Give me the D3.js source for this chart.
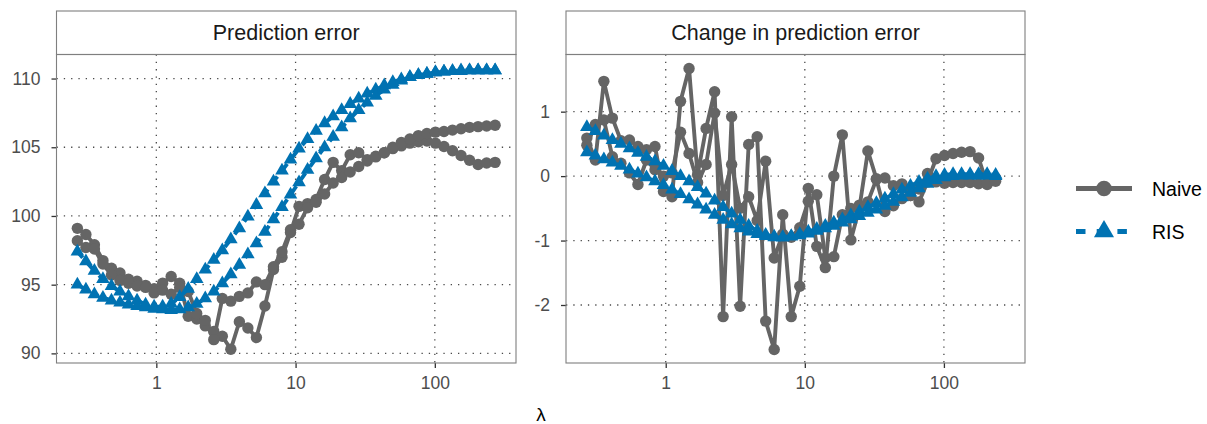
<!DOCTYPE html>
<html>
<head>
<meta charset="utf-8">
<script src="https://cdn.jsdelivr.net/npm/d3@7"></script>
<style>
  body { margin: 0; background: #ffffff; }
  svg { display: block; font-family: "Liberation Sans", Arial, Helvetica, sans-serif; }
</style>
</head>
<body>
<svg id="chart" width="1207" height="424"></svg>
<script>
// Penalty grid (log-spaced)
const lambda = [0.2710, 0.3121, 0.3592, 0.4136, 0.4763, 0.5483, 0.6314, 0.7271, 0.8372, 0.9639,
  1.1097, 1.2779, 1.4715, 1.6941, 1.9508, 2.2462, 2.5861, 2.9779, 3.4276, 3.9475,
  4.5447, 5.2323, 6.0242, 6.9375, 7.9873, 9.1970, 10.588, 12.195, 14.040, 16.164,
  18.610, 21.429, 24.671, 28.404, 32.701, 37.656, 43.355, 49.915, 57.465, 66.207,
  76.208, 87.745, 101.02, 116.34, 133.96, 154.22, 177.56, 204.49, 235.43, 271.02];

// Prediction error: two runs per method
const naiveErrA = [99.1, 98.65, 97.9, 96.75, 96.2, 95.85, 95.4, 95.25, 94.95, 94.7,
  95.1, 95.6, 95.1, 92.7, 92.5, 92.0, 91.6, 91.25, 90.3, 92.3,
  91.85, 91.15, 93.45, 96.1, 97.0, 98.8, 100.7, 100.9, 101.2, 102.65,
  103.9, 103.3, 104.45, 104.6, 104.1, 104.35, 104.6, 104.9, 105.1, 105.3,
  105.4, 105.45, 105.3, 105.05, 104.75, 104.4, 104.05, 103.75, 103.85, 103.9];
const naiveErrB = [98.2, 97.7, 97.6, 96.5, 95.7, 95.3, 95.1, 94.9, 94.8, 94.4,
  94.6, 94.3, 94.8, 94.5, 92.9, 92.4, 91.0, 94.0, 93.8, 94.15,
  94.4, 95.2, 95.0, 96.3, 97.4, 99.0, 99.4, 100.6, 101.0, 101.6,
  102.4, 102.8, 103.2, 103.6, 104.0, 104.3, 104.6, 105.0, 105.35, 105.6,
  105.85, 106.0, 106.1, 106.15, 106.25, 106.35, 106.45, 106.5, 106.55, 106.6];
const risErrA = [97.4, 96.7, 96.0, 95.4, 94.9, 94.5, 94.15, 93.85, 93.55, 93.4,
  93.4, 93.6, 94.1, 94.7, 95.4, 96.1, 96.8, 97.5, 98.3, 99.1,
  99.95, 100.8, 101.65, 102.5, 103.3, 104.1, 104.9, 105.6, 106.2, 106.75,
  107.25, 107.7, 108.15, 108.55, 108.9, 109.2, 109.5, 109.75, 109.95, 110.1,
  110.25, 110.35, 110.45, 110.5, 110.55, 110.55, 110.6, 110.6, 110.6, 110.6];
const risErrB = [95.0, 94.65, 94.3, 94.05, 93.85, 93.7, 93.55, 93.45, 93.35, 93.25,
  93.2, 93.15, 93.2, 93.35, 93.6, 94.0, 94.5, 95.1, 95.75, 96.45,
  97.2, 98.0, 98.85, 99.75, 100.65, 101.55, 102.45, 103.35, 104.2, 105.0,
  105.75, 106.45, 107.1, 107.7, 108.25, 108.75, 109.2, 109.55, 109.85, 110.1,
  110.25, 110.35, 110.45, 110.5, 110.55, 110.6, 110.6, 110.6, 110.6, 110.6];

// Change in prediction error (first 49 grid points)
const naiveChgA = [0.59, 0.25, 1.47, 0.9, 0.55, 0.56, 0.46, 0.41, 0.46, -0.24,
  -0.32, 1.16, 1.67, 0.02, 0.74, 1.31, -2.18, 0.92, -2.02, 0.49,
  0.61, -2.25, -2.69, -0.6, -2.18, -1.71, -0.19, -1.09, -1.42, 0.0,
  0.64, -0.99, -0.5, 0.39, -0.04, -0.03, -0.15, -0.12, -0.3, -0.4,
  -0.09, 0.27, 0.32, 0.35, 0.37, 0.38, 0.28, -0.13, -0.03];
const naiveChgB = [0.48, 0.8, 0.87, 0.3, 0.2, 0.05, -0.13, 0.25, 0.1, 0.0,
  0.05, 0.68, 0.35, -0.1, 0.18, 0.98, -0.3, 0.18, -0.5, -0.32,
  -0.69, 0.23, -1.27, -0.9, -0.95, -0.8, -0.39, -0.29, -1.27, -1.25,
  -0.6, -0.5, -0.45, -0.4, -0.05, -0.55, -0.46, -0.35, -0.3, -0.2,
  0.04, -0.09, -0.11, -0.1, -0.1, -0.1, -0.12, -0.1, -0.08];
const risChgA = [0.76, 0.70, 0.63, 0.56, 0.50, 0.43, 0.36, 0.30, 0.23, 0.16,
  0.08, 0.0, -0.08, -0.17, -0.27, -0.38, -0.48, -0.58, -0.68, -0.77,
  -0.85, -0.91, -0.94, -0.95, -0.93, -0.9, -0.86, -0.82, -0.77, -0.72,
  -0.67, -0.61, -0.55, -0.48, -0.42, -0.35, -0.28, -0.21, -0.15, -0.09,
  -0.04, 0.0, 0.02, 0.03, 0.03, 0.03, 0.03, 0.03, 0.02];
const risChgB = [0.37, 0.32, 0.26, 0.21, 0.16, 0.1, 0.04, -0.02, -0.08, -0.14,
  -0.21, -0.28, -0.36, -0.44, -0.52, -0.6, -0.68, -0.75, -0.81, -0.86,
  -0.9, -0.93, -0.95, -0.95, -0.94, -0.92, -0.89, -0.85, -0.81, -0.77,
  -0.72, -0.67, -0.62, -0.57, -0.52, -0.46, -0.4, -0.33, -0.26, -0.19,
  -0.12, -0.06, -0.02, 0.0, 0.01, 0.01, 0.01, 0.01, 0.0];

const panelTitles = ["Prediction error", "Change in prediction error"];
const xTicks = [1, 10, 100];
const xTickLabels = ["1", "10", "100"];
const yTicksError = [90, 95, 100, 105, 110];
const yTicksChange = [-2, -1, 0, 1];
const methods = ["Naive", "RIS"];

const colNaive = "#656565";
const colRIS = "#0072B2";

const svg = d3.select("#chart");

const plotTop = 54.5, plotBottom = 363, stripTop = 11;
const panels = [
  { title: panelTitles[0], x0: 56.5, x1: 516, yDomain: [89.3, 111.75], yTicks: yTicksError,
    naive: [naiveErrA, naiveErrB], ris: [risErrA, risErrB] },
  { title: panelTitles[1], x0: 566, x1: 1025, yDomain: [-2.9, 1.887], yTicks: yTicksChange,
    naive: [naiveChgA, naiveChgB], ris: [risChgA, risChgB] }
];

const xDomain = [0.1919, 382.8];

const triangle = d3.symbol().type(d3.symbolTriangle).size(80);

panels.forEach((p, pi) => {
  const x = d3.scaleLog().domain(xDomain).range([p.x0, p.x1]);
  const y = d3.scaleLinear().domain(p.yDomain).range([plotBottom, plotTop]);
  const g = svg.append("g");

  // strip
  g.append("rect").attr("x", p.x0).attr("y", stripTop)
    .attr("width", p.x1 - p.x0).attr("height", plotTop - stripTop)
    .attr("fill", "#ffffff").attr("stroke", "#7f7f7f").attr("stroke-width", 1.1);
  g.append("text").attr("x", (p.x0 + p.x1) / 2).attr("y", (stripTop + plotTop) / 2)
    .attr("dy", "0.36em").attr("text-anchor", "middle")
    .attr("font-size", 21.5).attr("fill", "#1a1a1a").text(p.title);

  // grid
  const grid = g.append("g").attr("stroke", "#4a4a4a").attr("stroke-width", 1.3)
    .attr("stroke-dasharray", "1.3,6");
  p.yTicks.forEach(v => {
    grid.append("line").attr("x1", p.x0).attr("x2", p.x1)
      .attr("y1", y(v)).attr("y2", y(v));
  });
  xTicks.forEach(v => {
    grid.append("line").attr("x1", x(v)).attr("x2", x(v))
      .attr("y1", plotTop).attr("y2", plotBottom);
  });

  // axes
  const yAxis = d3.axisLeft(y).tickValues(p.yTicks).tickSize(5).tickPadding(11)
    .tickFormat(d3.format("d"));
  const ya = g.append("g").attr("transform", `translate(${p.x0},0)`).call(yAxis);
  const xAxis = d3.axisBottom(x).tickValues(xTicks).tickSize(5).tickPadding(9)
    .tickFormat((d, i) => xTickLabels[i]);
  const xa = g.append("g").attr("transform", `translate(0,${plotBottom})`).call(xAxis);
  [ya, xa].forEach(a => {
    a.select(".domain").remove();
    a.selectAll(".tick line").attr("stroke", "#333333").attr("stroke-width", 1.3);
    a.selectAll(".tick text").attr("fill", "#4d4d4d").attr("font-size", 17.5)
      .attr("font-family", "Liberation Sans, Arial, sans-serif");
  });
  ya.selectAll(".tick text").text(d => String(d).replace("\u2212", "-"));

  // data
  const clipId = "clip" + pi;
  svg.append("clipPath").attr("id", clipId).append("rect")
    .attr("x", p.x0).attr("y", plotTop).attr("width", p.x1 - p.x0)
    .attr("height", plotBottom - plotTop);
  const data = g.append("g").attr("clip-path", `url(#${clipId})`);

  const line = d3.line().x((d, i) => x(lambda[i])).y(d => y(d));

  p.naive.forEach(s => {
    data.append("path").datum(s).attr("d", line).attr("fill", "none")
      .attr("stroke", colNaive).attr("stroke-width", 3.9).attr("stroke-linejoin", "round");
  });
  p.naive.forEach(s => {
    data.append("g").selectAll("circle").data(s).join("circle")
      .attr("cx", (d, i) => x(lambda[i])).attr("cy", d => y(d)).attr("r", 5.7)
      .attr("fill", colNaive);
  });
  p.ris.forEach(s => {
    data.append("path").datum(s).attr("d", line).attr("fill", "none")
      .attr("stroke", colRIS).attr("stroke-width", 3.9).attr("stroke-dasharray", "8,8");
  });
  p.ris.forEach(s => {
    data.append("g").selectAll("path").data(s).join("path")
      .attr("d", triangle)
      .attr("transform", (d, i) => `translate(${x(lambda[i])},${y(d)})`)
      .attr("fill", colRIS);
  });

  // panel border
  g.append("rect").attr("x", p.x0).attr("y", plotTop)
    .attr("width", p.x1 - p.x0).attr("height", plotBottom - plotTop)
    .attr("fill", "none").attr("stroke", "#7f7f7f").attr("stroke-width", 1.1);
});

// x axis title
svg.append("text").attr("x", 541).attr("y", 421).attr("text-anchor", "middle")
  .attr("font-size", 19).attr("fill", "#000").text("\u03bb");

// legend
const legend = svg.append("g");
const keyX0 = 1076, keyX1 = 1132, keyMid = 1104;
const keyY = [188.5, 231.5];
legend.append("line").attr("x1", keyX0).attr("x2", keyX1).attr("y1", keyY[0]).attr("y2", keyY[0])
  .attr("stroke", colNaive).attr("stroke-width", 5);
legend.append("circle").attr("cx", keyMid).attr("cy", keyY[0]).attr("r", 7.8).attr("fill", colNaive);
legend.append("line").attr("x1", keyX0).attr("x2", keyX1).attr("y1", keyY[1]).attr("y2", keyY[1])
  .attr("stroke", colRIS).attr("stroke-width", 5).attr("stroke-dasharray", "9.5,11.2");
legend.append("path").attr("d", d3.symbol().type(d3.symbolTriangle).size(175))
  .attr("transform", `translate(${keyMid},${keyY[1]})`).attr("fill", colRIS);
methods.forEach((m, i) => {
  legend.append("text").attr("x", 1152).attr("y", keyY[i]).attr("dy", "0.36em")
    .attr("font-size", 19.5).attr("fill", "#000").text(m);
});
</script>
</body>
</html>
